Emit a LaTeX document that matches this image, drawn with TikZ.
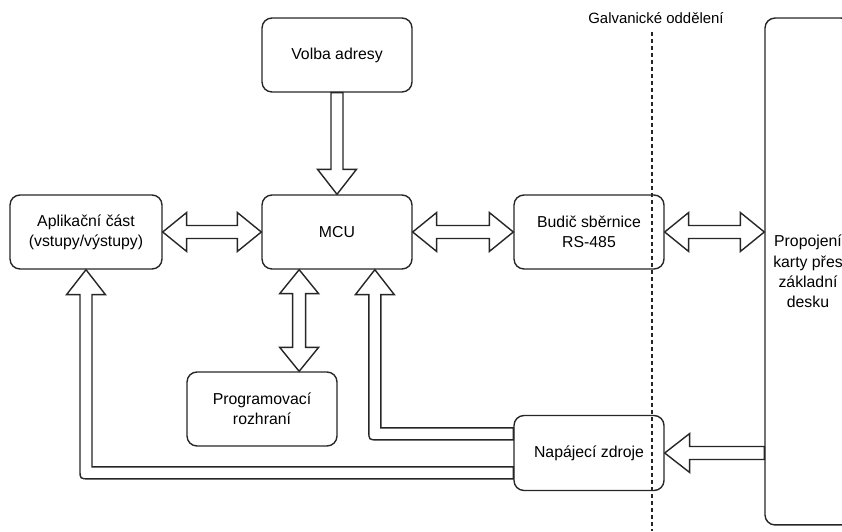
\documentclass[tikz,border=0pt]{standalone}
\usepackage{fontspec}
\setmainfont{Liberation Sans}
\usepackage{tikz}
\usetikzlibrary{calc,positioning}

% blokove sipky (obrys, bila vypln)
\newcommand{\blockbothh}[2]{%
  \draw[blockarrow] (#1) -- ++(24,19.5) -- ++(0,-13) -- ($(#2)+(-24,6.5)$) -- ++(0,13) -- (#2)
    -- ++(-24,-19.5) -- ++(0,13) -- ($(#1)+(24,-6.5)$) -- ++(0,-13) -- cycle;}
\newcommand{\blockbothv}[2]{%
  \draw[blockarrow] (#1) -- ++(19.5,-24) -- ++(-13,0) -- ($(#2)+(6.5,24)$) -- ++(13,0) -- (#2)
    -- ++(-19.5,24) -- ++(13,0) -- ($(#1)+(-6.5,-24)$) -- ++(-13,0) -- cycle;}
\newcommand{\blockdown}[2]{%
  \draw[blockarrow] ($(#1)+(-6,0)$) -- ($(#2)+(-6,25)$) -- ++(-13.5,0) -- (#2)
    -- ($(#2)+(19.5,25)$) -- ++(-13.5,0) -- ($(#1)+(6,0)$) -- cycle;}
\newcommand{\blockleft}[2]{%
  \draw[blockarrow] ($(#1)+(0,6.5)$) -- ($(#2)+(25,6.5)$) -- ++(0,13) -- (#2)
    -- ($(#2)+(25,-19.5)$) -- ++(0,13) -- ($(#1)+(0,-6.5)$) -- cycle;}
\newcommand{\blockel}[2]{%
  \coordinate (roh) at (#2 |- #1);
  \draw[blockarrow] ($(#1)+(0,6)$) -- ($(roh)+(6,6)$) -- ($(#2)+(6,-25)$) -- ++(13.5,0) -- (#2)
    -- ($(#2)+(-19.5,-25)$) -- ++(13.5,0) -- ($(roh)+(-6,3)$)
    .. controls ($(roh)+(-6,-6)$) .. ($(roh)+(3,-6)$) -- ($(#1)+(0,-6)$) -- cycle;}

\begin{document}
\begin{tikzpicture}[x=0.02cm, y=0.02cm,
    box/.style={draw=black!85, line width=0.8pt, rounded corners=0.2cm, minimum width=3cm,
      minimum height=1.48cm, align=center, font=\fontsize{9}{11.5}\selectfont},
    blockarrow/.style={draw=black!85, line width=0.8pt, fill=white, line join=miter}]
    \useasboundingbox (0,0) rectangle (842,531);
    \clip (0,0) rectangle (842,531);

    % bloky
    \node[box] (volba) at (337,476) {Volba adresy};
    \node[box] (mcu) at (337,299) {MCU};
    \node[box, minimum width=3.04cm] (aplik) at (86,299) {Aplikační část\\(vstupy/výstupy)};
    \node[box] (budic) at (589,299) {Budič sběrnice\\RS-485};
    \node[box] (prog) at (262,122) {Programovací\\rozhraní};
    \node[box, minimum height=1.5cm] (napaj) at (589,78) {Napájecí zdroje};
    \node[box, minimum width=1.72cm, minimum height=10.14cm] (propoj) at (808,259.5)
      {Propojení\\karty přes\\základní\\desku};

    % pomocne body
    \coordinate (mcuS1) at ($(mcu.south west)!0.25!(mcu.south east)$);
    \coordinate (mcuS2) at ($(mcu.south west)!0.75!(mcu.south east)$);
    \coordinate (progN) at (mcuS1 |- prog.north);
    \coordinate (napajA) at ($(napaj.north west)!0.25!(napaj.south west)$);
    \coordinate (napajB) at ($(napaj.north west)!0.76!(napaj.south west)$);
    \coordinate (propojB) at (propoj.west |- budic.east);
    \coordinate (propojN) at (propoj.west |- napaj.east);

    % sipky
    \blockdown{volba.south}{mcu.north}
    \blockbothh{aplik.east}{mcu.west}
    \blockbothh{mcu.east}{budic.west}
    \blockbothh{budic.east}{propojB}
    \blockbothv{mcuS1}{progN}
    \blockleft{propojN}{napaj.east}
    \blockel{napajA}{mcuS2}
    \blockel{napajB}{aplik.south}

    % galvanicke oddeleni
    \node[font=\fontsize{8.5}{10}\selectfont] (galv) at (656,513) {Galvanické oddělení};
    \coordinate (galvB) at (652,0);
    \draw[black!85, line width=0.8pt, dash pattern=on 0.08cm off 0.06cm] (652,499) -- (galvB);
\end{tikzpicture}
\end{document}
